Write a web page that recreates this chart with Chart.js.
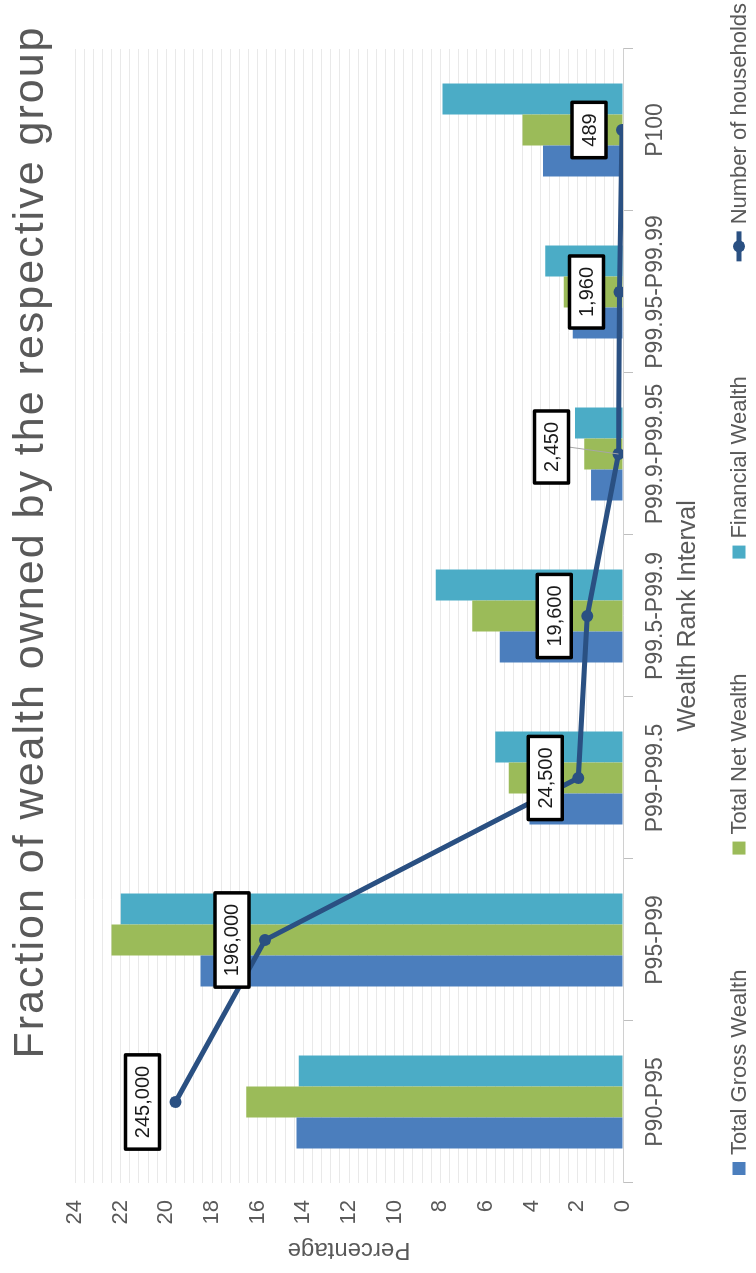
<!DOCTYPE html>
<html>
<head>
<meta charset="utf-8">
<script src="https://cdn.jsdelivr.net/npm/chart.js@4.4.1/dist/chart.umd.min.js"></script>
<style>
html,body{margin:0;padding:0;background:#ffffff;overflow:hidden;}
#stage{position:relative;width:756px;height:1273px;overflow:hidden;background:#fff;}
#rot{position:absolute;left:0;top:1273px;width:1273px;height:756px;transform-origin:0 0;transform:rotate(-90deg);}
canvas{display:block;}
</style>
</head>
<body>
<div id="stage"><div id="rot"><canvas id="c" width="1273" height="756"></canvas></div></div>
<script>
// ---- data ----
const categories = ['P90-P95', 'P95-P99', 'P99-P99.5', 'P99.5-P99.9', 'P99.9-P99.95', 'P99.95-P99.99', 'P100'];
const grossWealth = [14.3, 18.5, 4.1, 5.4, 1.4, 2.2, 3.5];
const netWealth = [16.5, 22.4, 5.0, 6.6, 1.7, 2.6, 4.4];
const financialWealth = [14.2, 22.0, 5.6, 8.2, 2.1, 3.4, 7.9];
const households = [245000, 196000, 24500, 19600, 2450, 1960, 489];
const seriesNames = ['Total Gross Wealth', 'Total Net Wealth', 'Financial Wealth', 'Number of households'];
const chartTitle = 'Fraction of wealth owned by the respective group';
const xTitle = 'Wealth Rank Interval';
const yTitle = 'Percentage';

// ---- styles ----
const FONT = "'Liberation Sans', Arial, Helvetica, sans-serif";
const GRAY = '#595959';
const C_BLUE = '#4B7EBD', C_GREEN = '#9BBB59', C_CYAN = '#4BACC6', C_NAVY = '#2A5082';

const titlePlugin = {
  id: 'bigTitle',
  afterDraw(chart) {
    const ctx = chart.ctx;
    ctx.save();
    ctx.font = '43px ' + FONT;
    ctx.fillStyle = GRAY;
    ctx.textAlign = 'center';
    ctx.textBaseline = 'alphabetic';
    try { ctx.letterSpacing = '2px'; } catch (e) {}
    ctx.fillText(chartTitle, 731, 43);
    ctx.restore();
  }
};

// legend drawn along the bottom edge, spread like the original
const legendPlugin = {
  id: 'wideLegend',
  afterDraw(chart) {
    const ctx = chart.ctx;
    const ds = chart.data.datasets;
    ctx.save();
    ctx.font = '22px ' + FONT;
    ctx.textBaseline = 'middle';
    ctx.textAlign = 'left';
    const cy = 739, x0 = 98, x1 = 1270, gapMT = 7;
    const mw = ds.map(d => d.type === 'line' ? 30 : 13);
    const tw = ds.map(d => ctx.measureText(d.label).width);
    let content = 0;
    ds.forEach((d, i) => { content += mw[i] + gapMT + tw[i]; });
    const gap = (x1 - x0 - content) / (ds.length - 1);
    let x = x0;
    ds.forEach((d, i) => {
      const col = d.type === 'line' ? d.borderColor : d.backgroundColor;
      if (d.type === 'line') {
        ctx.strokeStyle = col; ctx.lineWidth = 5;
        ctx.beginPath(); ctx.moveTo(x, cy); ctx.lineTo(x + mw[i], cy); ctx.stroke();
        ctx.fillStyle = col;
        ctx.beginPath(); ctx.arc(x + mw[i] / 2, cy, 6, 0, Math.PI * 2); ctx.fill();
      } else {
        ctx.fillStyle = col;
        ctx.fillRect(x, cy - 6.5, 13, 13);
      }
      x += mw[i] + gapMT;
      ctx.fillStyle = GRAY;
      ctx.fillText(d.label, x, cy + 1);
      x += tw[i] + gap;
    });
    ctx.restore();
  }
};

const labelShift = {4: {dx: 7, dy: -67, leader: true}};
const hhLabelPlugin = {
  id: 'hhLabels',
  afterDatasetsDraw(chart) {
    const meta = chart.getDatasetMeta(3);
    const ctx = chart.ctx;
    ctx.save();
    ctx.font = '20px ' + FONT;
    meta.data.forEach((pt, i) => {
      const txt = households[i].toLocaleString('en-US');
      const sh = labelShift[i] || {dx: 0, dy: -33};
      const w = ctx.measureText(txt).width + 22;
      const h = 34;
      const cx = pt.x + sh.dx, cy = pt.y + sh.dy;
      if (sh.leader) {
        ctx.strokeStyle = '#a6a6a6'; ctx.lineWidth = 1;
        ctx.beginPath(); ctx.moveTo(cx, cy + h / 2); ctx.lineTo(pt.x, pt.y); ctx.stroke();
      }
      ctx.fillStyle = '#ffffff';
      ctx.strokeStyle = '#000000';
      ctx.lineWidth = 3.5;
      ctx.lineJoin = 'round';
      ctx.beginPath();
      ctx.rect(cx - w / 2, cy - h / 2, w, h);
      ctx.fill(); ctx.stroke();
      ctx.fillStyle = '#1a1a1a';
      ctx.textAlign = 'center';
      ctx.textBaseline = 'middle';
      ctx.fillText(txt, cx, cy + 1);
    });
    ctx.restore();
  }
};

new Chart(document.getElementById('c'), {
  data: {
    labels: categories,
    datasets: [
      {type: 'bar', label: seriesNames[0], data: grossWealth, backgroundColor: C_BLUE, order: 1, yAxisID: 'y'},
      {type: 'bar', label: seriesNames[1], data: netWealth, backgroundColor: C_GREEN, order: 1, yAxisID: 'y'},
      {type: 'bar', label: seriesNames[2], data: financialWealth, backgroundColor: C_CYAN, order: 1, yAxisID: 'y'},
      {type: 'line', label: seriesNames[3], data: households, borderColor: C_NAVY, backgroundColor: C_NAVY,
       borderWidth: 5, pointRadius: 6, pointBackgroundColor: C_NAVY, pointBorderWidth: 0, order: 0, yAxisID: 'y2', tension: 0}
    ]
  },
  options: {
    responsive: false,
    animation: false,
    devicePixelRatio: 1,
    categoryPercentage: 0.574,
    barPercentage: 1,
    layout: {padding: {top: 75, right: 49, bottom: 42, left: 0}},
    plugins: {
      title: {display: false},
      tooltip: {enabled: false},
      legend: {display: false}
    },
    scales: {
      x: {
        type: 'category',
        offset: true,
        grid: {offset: true, drawOnChartArea: false, drawTicks: true, tickLength: 10, color: '#bfbfbf'},
        border: {display: true, color: '#d0d0d0', width: 1},
        ticks: {font: {size: 23, family: FONT}, color: GRAY, padding: 9, maxRotation: 0, autoSkip: false},
        title: {display: true, text: xTitle, color: GRAY, font: {size: 25, family: FONT}, padding: {top: 0, bottom: 11}},
        afterFit(s) { s.height = 91; }
      },
      y: {
        position: 'left',
        min: 0, max: 24,
        ticks: {
          stepSize: 0.4, autoSkip: false, padding: 17, color: GRAY, font: {size: 22, family: FONT},
          callback(v) { const r = v / 2; return Math.abs(r - Math.round(r)) < 1e-6 ? String(Math.round(v)) : ''; }
        },
        grid: {color: '#e9e9e9', lineWidth: 1, drawTicks: false},
        border: {display: false},
        title: {display: true, text: yTitle, color: GRAY, font: {size: 24, family: FONT}, padding: {top: 9, bottom: 0}},
        afterFit(s) { s.width = 90; }
      },
      y2: {position: 'right', min: 0, max: 300000, display: false, grid: {display: false}}
    }
  },
  plugins: [titlePlugin, legendPlugin, hhLabelPlugin]
});
</script>
</body>
</html>
